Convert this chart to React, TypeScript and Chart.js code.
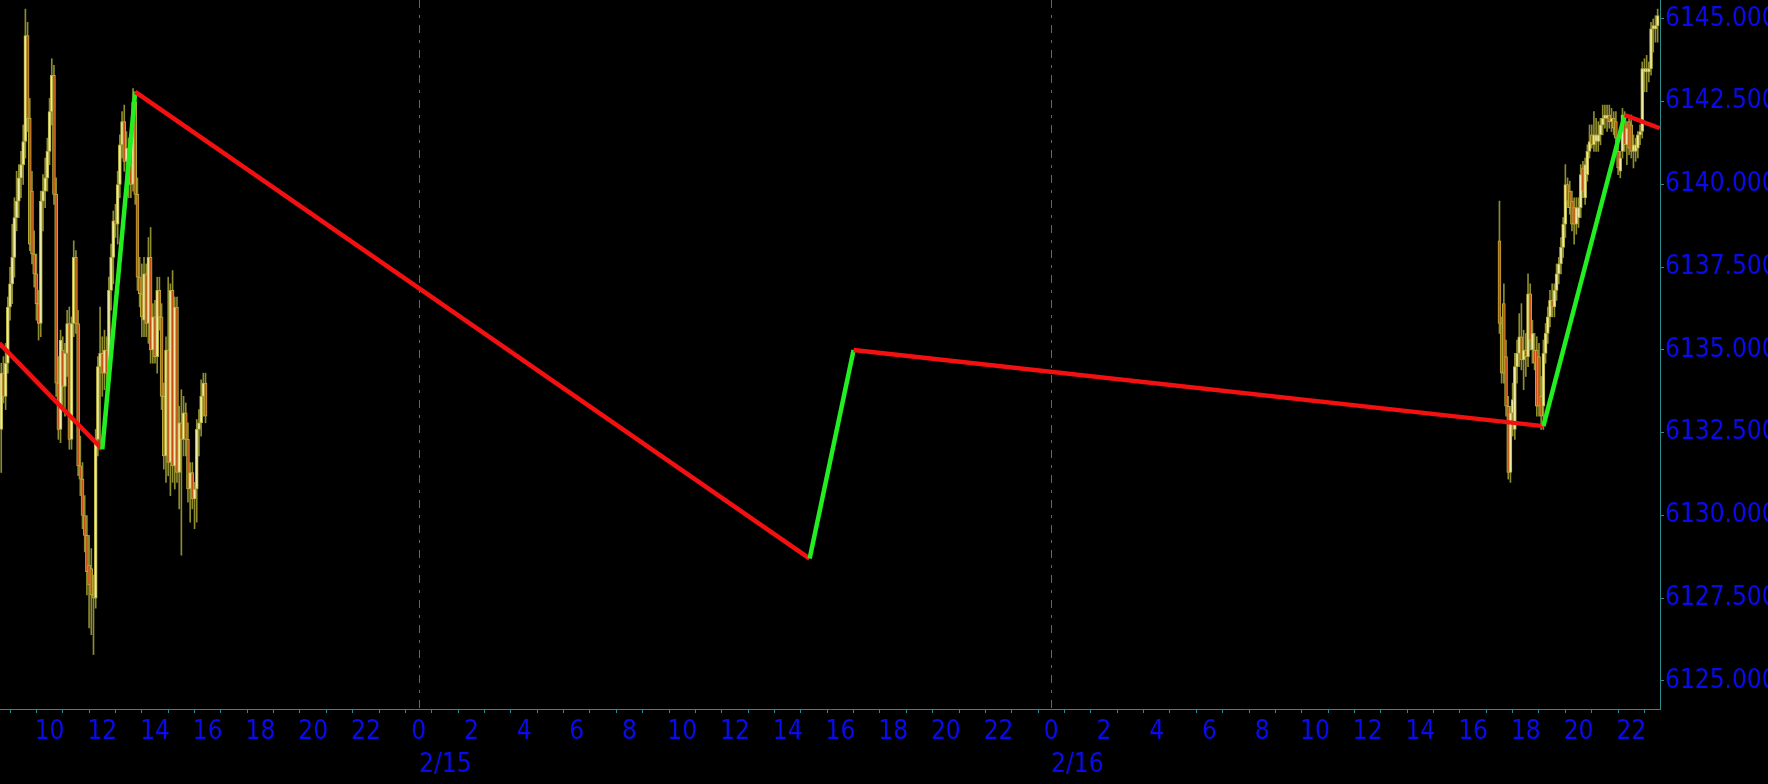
import React, { useEffect, useRef } from 'react';
import { Chart, registerables } from 'chart.js';

Chart.register(...registerables);

// ---- axis ranges (hours counted from 2/14 00:00) ----
const X_MIN_HOUR = 8.12;
const X_MAX_HOUR = 71.09;
const Y_MIN = 6124.154;
const Y_MAX = 6145.574;
const Y_STEP = 2.5;

const DAY_BOUNDARY_HOURS = [24, 48];
const DAY_LABELS = ['2/15', '2/16'];

// ---- candles: 5-minute bars ----
const BAR_MINUTES = 5;

// 2/14 08:10 .. 15:55
const SEG1_START_HOUR = 8 + 10 / 60;
const SEG1_OPEN = [
  6132.6, 6134.3, 6133.6, 6134.6, 6136.3, 6137.0, 6137.8, 6139.0, 6139.5, 6140.2,
  6140.6, 6141.3, 6144.5, 6142.0, 6139.8, 6137.9, 6137.3, 6136.4, 6135.8, 6139.5,
  6139.8, 6140.2, 6141.0, 6142.2, 6143.3, 6139.7, 6134.0, 6132.6, 6135.0, 6133.9,
  6134.9, 6135.8, 6132.3, 6135.8, 6137.8, 6135.8, 6131.5, 6131.1, 6130.0, 6129.4,
  6128.5, 6128.4, 6127.6, 6127.5, 6132.3, 6134.5, 6134.9, 6134.3, 6135.0, 6134.3,
  6136.8, 6137.8, 6138.9, 6138.8, 6140.0, 6141.2, 6141.9, 6140.7, 6141.1, 6140.6,
  6140.0, 6142.5, 6139.7, 6137.2, 6136.7, 6135.9, 6137.3, 6135.8, 6137.8, 6135.0,
  6136.0, 6134.8, 6136.8, 6136.0, 6133.6, 6131.8, 6135.0, 6131.6, 6136.8, 6131.5,
  6136.3, 6131.3, 6132.8, 6132.3, 6133.1, 6132.3, 6130.8, 6131.3, 6130.5, 6130.8,
  6132.6, 6132.8, 6133.6, 6134.0,
];
const SEG1_HIGH = [
  6134.6, 6134.8, 6135.2, 6136.6, 6137.5, 6138.8, 6139.6, 6140.4, 6140.6, 6141.0,
  6141.8, 6145.3, 6144.9, 6142.6, 6140.4, 6138.6, 6137.9, 6136.8, 6139.8, 6140.3,
  6140.8, 6141.4, 6142.6, 6143.8, 6143.6, 6140.2, 6134.8, 6135.6, 6135.4, 6135.2,
  6136.2, 6136.3, 6136.0, 6138.3, 6138.0, 6136.2, 6132.4, 6131.6, 6130.6, 6130.0,
  6129.4, 6129.0, 6128.2, 6132.6, 6134.8, 6136.3, 6135.4, 6135.6, 6135.4, 6137.2,
  6138.2, 6139.2, 6139.4, 6140.4, 6141.5, 6142.2, 6142.4, 6141.6, 6141.4, 6141.0,
  6142.9, 6142.8, 6140.2, 6137.8, 6137.6, 6137.8, 6137.6, 6138.4, 6138.7, 6136.4,
  6136.5, 6137.2, 6137.2, 6136.4, 6134.0, 6135.4, 6137.2, 6137.0, 6137.4, 6136.6,
  6136.6, 6133.3, 6133.8, 6133.6, 6133.4, 6132.8, 6131.6, 6131.6, 6131.0, 6132.9,
  6133.2, 6134.1, 6134.3, 6134.3,
];
const SEG1_LOW = [
  6131.3, 6133.4, 6133.2, 6134.3, 6135.9, 6136.4, 6137.2, 6138.6, 6139.0, 6139.6,
  6140.0, 6140.8, 6141.6, 6138.0, 6137.6, 6136.9, 6135.9, 6135.3, 6135.4, 6138.6,
  6139.3, 6139.8, 6140.6, 6141.8, 6139.4, 6133.6, 6132.3, 6132.2, 6133.2, 6133.0,
  6134.2, 6132.0, 6132.0, 6135.4, 6135.5, 6131.2, 6130.6, 6129.6, 6128.9, 6127.6,
  6126.6, 6126.4, 6125.8, 6127.2, 6131.8, 6132.0, 6133.6, 6133.8, 6133.0, 6133.9,
  6136.2, 6137.0, 6138.4, 6138.2, 6139.6, 6140.8, 6140.4, 6139.8, 6139.6, 6139.6,
  6139.8, 6139.4, 6136.8, 6136.3, 6135.4, 6135.4, 6135.4, 6135.2, 6134.6, 6134.6,
  6134.6, 6134.3, 6135.6, 6133.2, 6131.4, 6131.0, 6131.2, 6130.6, 6131.0, 6130.8,
  6131.0, 6130.2, 6128.8, 6131.8, 6131.8, 6130.4, 6129.8, 6130.2, 6129.6, 6129.8,
  6131.8, 6132.4, 6133.0, 6132.8,
];
const SEG1_CLOSE = [
  6134.3, 6133.6, 6134.6, 6136.3, 6137.0, 6137.8, 6139.0, 6139.5, 6140.2, 6140.6,
  6141.3, 6144.5, 6142.0, 6138.2, 6137.9, 6137.3, 6136.4, 6135.8, 6139.5, 6139.8,
  6140.2, 6141.0, 6142.2, 6143.3, 6139.7, 6134.0, 6132.6, 6135.3, 6133.9, 6134.9,
  6135.8, 6132.3, 6135.8, 6137.8, 6135.8, 6131.5, 6131.1, 6130.0, 6129.4, 6128.3,
  6127.9, 6127.6, 6127.5, 6132.3, 6134.5, 6134.9, 6134.3, 6135.0, 6134.3, 6136.8,
  6137.8, 6138.9, 6138.8, 6140.0, 6141.2, 6141.9, 6140.7, 6141.1, 6140.0, 6140.0,
  6142.5, 6139.7, 6137.2, 6136.7, 6136.0, 6137.3, 6135.8, 6137.8, 6135.0, 6136.0,
  6134.8, 6136.8, 6136.0, 6133.6, 6131.8, 6135.0, 6131.6, 6136.8, 6131.5, 6136.3,
  6131.3, 6132.8, 6132.3, 6133.1, 6132.3, 6130.8, 6131.3, 6130.5, 6130.8, 6132.6,
  6132.8, 6133.6, 6134.0, 6133.0,
];

// 2/16 17:00 .. 23:00
const SEG2_START_HOUR = 48 + 17;
const SEG2_OPEN = [
  6138.3, 6135.8, 6136.4, 6134.8, 6133.3, 6131.3, 6133.1, 6132.6, 6134.5, 6134.9,
  6135.4, 6134.7, 6135.0, 6134.8, 6136.7, 6135.0, 6135.0, 6135.0, 6134.8, 6133.6,
  6133.3, 6134.9, 6135.5, 6136.0, 6136.5, 6136.3, 6136.8, 6137.3, 6137.6, 6138.1,
  6138.8, 6140.0, 6139.8, 6139.5, 6139.3, 6138.8, 6139.0, 6139.3, 6140.5, 6139.6,
  6140.3, 6141.0, 6141.5, 6141.2, 6141.3, 6141.3, 6141.5, 6141.8, 6142.0, 6142.0,
  6142.1, 6141.9, 6142.0, 6141.9, 6141.0, 6140.4, 6141.0, 6142.0, 6141.2, 6141.9,
  6141.8, 6141.0, 6141.0, 6141.1, 6141.5, 6141.6, 6143.4, 6143.4, 6143.4, 6143.5,
  6144.7, 6144.7, 6144.8,
];
const SEG2_HIGH = [
  6139.5, 6136.0, 6137.0, 6135.3, 6133.6, 6133.3, 6134.0, 6134.9, 6135.3, 6136.1,
  6136.4, 6135.6, 6135.5, 6137.3, 6137.0, 6135.9, 6135.5, 6135.4, 6135.2, 6134.2,
  6135.3, 6135.8, 6136.3, 6136.8, 6137.0, 6137.0, 6137.6, 6137.8, 6138.4, 6139.0,
  6140.6, 6140.2, 6140.1, 6139.8, 6139.6, 6139.6, 6139.6, 6140.6, 6140.7, 6140.8,
  6141.2, 6141.8, 6141.8, 6142.2, 6142.0, 6141.9, 6142.0, 6142.4, 6142.4, 6142.4,
  6142.4, 6142.3, 6142.2, 6142.2, 6141.2, 6141.0, 6142.3, 6142.2, 6141.9, 6142.1,
  6142.1, 6141.5, 6141.4, 6141.6, 6141.8, 6143.7, 6143.8, 6143.9, 6143.7, 6144.9,
  6145.0, 6145.1, 6145.3,
];
const SEG2_LOW = [
  6135.5, 6134.0, 6134.0, 6133.0, 6131.1, 6131.0, 6132.4, 6132.3, 6134.0, 6134.5,
  6134.4, 6133.8, 6134.2, 6134.5, 6135.0, 6134.6, 6134.4, 6133.0, 6133.0, 6132.6,
  6132.6, 6134.6, 6135.2, 6135.7, 6136.0, 6136.0, 6136.5, 6137.0, 6137.3, 6137.8,
  6138.4, 6139.3, 6139.1, 6138.6, 6138.2, 6138.5, 6138.7, 6139.0, 6139.6, 6139.4,
  6140.1, 6140.8, 6141.1, 6141.0, 6141.0, 6141.0, 6141.2, 6141.5, 6141.7, 6141.6,
  6141.7, 6141.6, 6141.5, 6141.2, 6140.3, 6140.2, 6140.8, 6141.0, 6140.6, 6140.9,
  6140.8, 6140.5, 6140.7, 6140.8, 6141.2, 6141.4, 6142.8, 6142.8, 6143.1, 6143.3,
  6144.0, 6144.3, 6144.3,
];
const SEG2_CLOSE = [
  6135.8, 6134.3, 6134.3, 6133.3, 6131.3, 6133.1, 6133.5, 6134.5, 6134.9, 6135.4,
  6134.7, 6135.0, 6134.8, 6136.7, 6135.3, 6135.5, 6134.6, 6133.3, 6133.3, 6133.0,
  6134.9, 6135.5, 6136.0, 6136.5, 6136.3, 6136.8, 6137.3, 6137.6, 6138.1, 6138.8,
  6140.0, 6139.5, 6139.3, 6138.8, 6138.8, 6139.3, 6139.3, 6140.3, 6139.8, 6140.6,
  6141.0, 6141.3, 6141.2, 6141.5, 6141.5, 6141.5, 6141.8, 6142.0, 6142.1, 6142.1,
  6141.9, 6142.0, 6141.7, 6141.4, 6140.5, 6140.8, 6142.1, 6141.2, 6141.7, 6141.1,
  6141.0, 6141.2, 6141.2, 6141.5, 6141.6, 6143.5, 6143.5, 6143.5, 6143.5, 6144.7,
  6144.8, 6144.8, 6145.1,
];

// ---- zigzag indicator ----
const ZIGZAG_HOURS = [8.1, 12.0, 13.25, 24 + 14 + 50 / 60, 24 + 16.5, 48 + 18 + 40 / 60, 48 + 21.75, 48 + 23 + 5 / 60];
const ZIGZAG_VALUES = [6135.2, 6132.0, 6142.8, 6128.7, 6135.0, 6132.7, 6142.1, 6141.7];

// ---- styles ----
const BG = '#000000';
const AXIS_COLOR = '#2f8a8a';
const GRID_COLOR = '#2a8080';
const LABEL_COLOR = '#0a0aee';
const WICK_COLOR = '#8e8c2c';
const BODY_BORDER = '#b4ae3c';
const UP_FILL = '#eeeaa8';
const DOWN_FILL = '#c84e16';
const ZIG_UP = '#22ee22';
const ZIG_DOWN = '#f21010';
const FONT_FAMILY = "'DejaVu Sans Condensed', 'DejaVu Sans', sans-serif";

type Candle = { x: number; o: number; h: number; l: number; c: number };

function buildCandles(start: number, o: number[], h: number[], l: number[], c: number[]): Candle[] {
  return o.map((open, i) => ({ x: start + (i * BAR_MINUTES) / 60, o: open, h: h[i], l: l[i], c: c[i] }));
}

export default function App() {
  const canvasRef = useRef<HTMLCanvasElement | null>(null);

  useEffect(() => {
    const canvas = canvasRef.current;
    if (!canvas) return;

    const candles = [
      ...buildCandles(SEG1_START_HOUR, SEG1_OPEN, SEG1_HIGH, SEG1_LOW, SEG1_CLOSE),
      ...buildCandles(SEG2_START_HOUR, SEG2_OPEN, SEG2_HIGH, SEG2_LOW, SEG2_CLOSE),
    ];
    const wickData = candles.map((k) => ({ x: k.x, y: [k.l, k.h] }));
    const bodyData = candles.map((k) => ({ x: k.x, y: [k.o, k.c] }));
    const bodyFill = candles.map((k) => (k.c >= k.o ? UP_FILL : DOWN_FILL));
    const zigData = ZIGZAG_HOURS.map((h, i) => ({ x: h, y: ZIGZAG_VALUES[i] }));

    const dayPlugin = {
      id: 'dayMarks',
      beforeDatasetsDraw(chart: any) {
        const { ctx, chartArea, scales } = chart;
        const xs = scales.x;
        ctx.save();
        ctx.strokeStyle = GRID_COLOR;
        ctx.lineWidth = 1;
        ctx.setLineDash([8, 7, 3, 7]);
        DAY_BOUNDARY_HOURS.forEach((h) => {
          const px = Math.round(xs.getPixelForValue(h)) + 0.5;
          ctx.beginPath();
          ctx.moveTo(px, chartArea.top);
          ctx.lineTo(px, chartArea.bottom + 4);
          ctx.stroke();
        });
        ctx.restore();
      },
      afterDraw(chart: any) {
        const { ctx, scales } = chart;
        const xs = scales.x;
        ctx.save();
        ctx.fillStyle = LABEL_COLOR;
        ctx.font = `26px ${FONT_FAMILY}`;
        ctx.textAlign = 'left';
        ctx.textBaseline = 'middle';
        DAY_BOUNDARY_HOURS.forEach((h, i) => {
          const px = Math.round(xs.getPixelForValue(h));
          ctx.fillText(DAY_LABELS[i], px, xs.top + 56);
        });
        ctx.restore();
      },
    };

    const chart = new Chart(canvas, {
      type: 'bar',
      data: {
        datasets: [
          {
            type: 'line',
            data: zigData,
            borderWidth: 4.5,
            borderColor: ZIG_DOWN,
            pointRadius: 0,
            tension: 0,
            order: 1,
            segment: {
              borderColor: (ctx: any) => (ctx.p1.parsed.y > ctx.p0.parsed.y ? ZIG_UP : ZIG_DOWN),
            },
          } as any,
          {
            type: 'bar',
            data: bodyData as any,
            backgroundColor: bodyFill,
            borderColor: BODY_BORDER,
            borderWidth: 1,
            borderSkipped: false,
            barThickness: 3,
            grouped: false,
            order: 2,
          } as any,
          {
            type: 'bar',
            data: wickData as any,
            backgroundColor: WICK_COLOR,
            borderWidth: 0,
            barThickness: 1,
            grouped: false,
            order: 3,
          } as any,
        ],
      },
      options: {
        responsive: false,
        animation: false,
        events: [],
        layout: { padding: 0 },
        plugins: { legend: { display: false }, tooltip: { enabled: false } },
        scales: {
          x: {
            type: 'linear',
            position: 'bottom',
            min: X_MIN_HOUR,
            max: X_MAX_HOUR,
            offset: false,
            grid: {
              drawOnChartArea: false,
              drawTicks: true,
              tickLength: 4,
              tickColor: AXIS_COLOR,
              color: AXIS_COLOR,
            },
            border: { display: true, color: AXIS_COLOR, width: 1 },
            ticks: {
              stepSize: 1,
              autoSkip: false,
              maxRotation: 0,
              minRotation: 0,
              includeBounds: false,
              padding: 4,
              color: LABEL_COLOR,
              font: { family: FONT_FAMILY, size: 26 },
              callback: (v: any) => {
                const h = ((Math.round(Number(v)) % 24) + 24) % 24;
                return h % 2 === 0 ? String(h) : '';
              },
            },
            afterFit: (scale: any) => {
              scale.height = 75;
              scale.paddingLeft = 0;
              scale.paddingRight = 0;
            },
          } as any,
          y: {
            type: 'linear',
            position: 'right',
            min: Y_MIN,
            max: Y_MAX,
            grid: {
              drawOnChartArea: false,
              drawTicks: true,
              tickLength: 4,
              tickColor: AXIS_COLOR,
              color: AXIS_COLOR,
            },
            border: { display: true, color: AXIS_COLOR, width: 1 },
            ticks: {
              stepSize: Y_STEP,
              includeBounds: false,
              padding: 1,
              color: LABEL_COLOR,
              font: { family: FONT_FAMILY, size: 26 },
              callback: (v: any) => Number(v).toFixed(3),
            },
            afterFit: (scale: any) => {
              scale.width = 108;
              scale.paddingTop = 0;
              scale.paddingBottom = 0;
            },
          } as any,
        },
      },
      plugins: [dayPlugin],
    });

    return () => {
      chart.destroy();
    };
  }, []);

  return (
    <div
      style={{
        position: 'fixed',
        left: 0,
        top: 0,
        width: 1768,
        height: 784,
        background: BG,
        overflow: 'hidden',
      }}
    >
      <canvas ref={canvasRef} width={1768} height={784} style={{ display: 'block', width: 1768, height: 784 }} />
    </div>
  );
}
